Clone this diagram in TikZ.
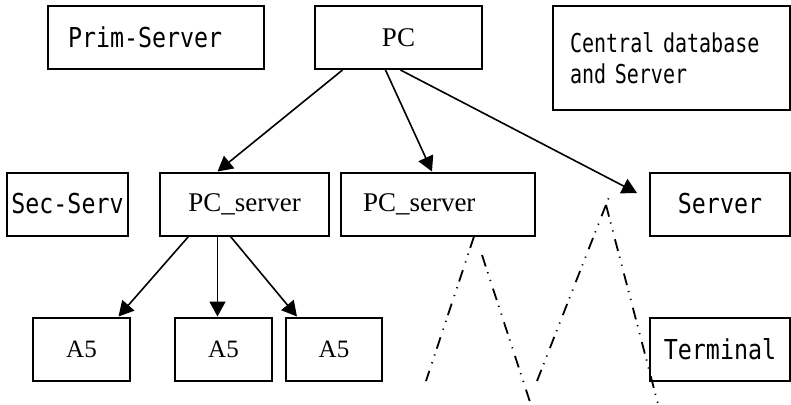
\documentclass[tikz,border=0pt]{standalone}
\usepackage{fontspec}
\setmainfont{Liberation Serif}
\newfontfamily\monofnt[FakeStretch=0.85]{DejaVu Sans Mono}
\newfontfamily\narrowfnt[FakeStretch=0.77]{DejaVu Sans Mono}
\usepackage{tikz}
\usetikzlibrary{arrows.meta,calc}

\begin{document}
\begin{tikzpicture}[
  x=0.5pt, y=-0.5pt,
  box/.style={draw, line width=1pt, minimum height=31.5pt, inner sep=0pt,
              font=\fontsize{13.5}{15}\selectfont},
  mono/.style={font=\monofnt\fontsize{13.7}{15}\selectfont},
  arr/.style={-{Triangle[length=7.5pt,width=8pt]}, line width=0.8pt},
  dd/.style={line width=0.9pt,
             dash pattern=on 6pt off 3pt on 0.6pt off 3.5pt on 0.6pt off 4pt}
]
\useasboundingbox (0,0) rectangle (791,404);

% top row
\node[box, mono, text width=88pt, inner xsep=10pt, align=left] (prim) at (156,37.5) {Prim-Server};
\node[box, minimum width=83.5pt] (pc) at (398.5,37.5) {PC};
\node[box, text width=101.5pt, inner xsep=8.5pt, minimum height=52pt, align=left,
      font=\narrowfnt\fontsize{13}{15.5}\selectfont] (central) at (671.5,58)
  {Central database\\ and Server};

% middle row
\node[box, mono, minimum width=60.5pt] (secserv) at (67.5,204) {Sec-Serv};
\node[box, minimum width=84.5pt] (pcsA) at (244.5,204) {PC\_server};
\node[box, text width=75pt, inner xsep=11pt, align=left] (pcsB) at (438,204) {PC\_server};
\node[box, mono, minimum width=70pt] (server) at (720,204) {Server};

% bottom row
\node[box, minimum width=48.5pt, font=\fontsize{12.5}{15}\selectfont] (a5a) at (81.5,349) {A5};
\node[box, minimum width=48.5pt, font=\fontsize{12.5}{15}\selectfont] (a5b) at (223.5,349) {A5};
\node[box, minimum width=48pt, font=\fontsize{12.5}{15}\selectfont] (a5c) at (334,349) {A5};
\node[box, mono, minimum width=70pt] (terminal) at (720,349) {Terminal};

\draw[arr] ($(pc.south)+(-56,0)$) -- ($(pcsA.north)+(-27,0)$);
\draw[arr] ($(pc.south)+(-13,0)$) -- ($(pcsB.north)+(-6,0)$);
\draw[arr] ($(pc.south)+(2,0)$) -- ($(server.west)+(-12,-11)$);

\draw[arr] ($(pcsA.south)+(-56,0)$) -- ($(a5a.north)+(37,0)$);
\draw[arr] ($(pcsA.south)+(-27,0)$) -- ($(a5b.north)+(-6,0)$);
\draw[arr] ($(pcsA.south)+(-14,0)$) -- ($(a5c.north)+(-37,0)$);

% zigzag below the right half
\coordinate (z1) at (426,381);
\coordinate (z2) at (482,255);
\coordinate (z3) at (530,402);
\coordinate (z4) at (537,381);
\coordinate (z5) at (611,192);
\coordinate (z6) at (606,205);
\coordinate (z7) at (658,404);
\draw[dd] ($(pcsB.south)+(36,0)$) -- (z1);
\draw[dd] (z2) -- (z3);
\draw[dd] (z4) -- (z5);
\draw[dd] (z6) -- (z7);
\end{tikzpicture}
\end{document}
